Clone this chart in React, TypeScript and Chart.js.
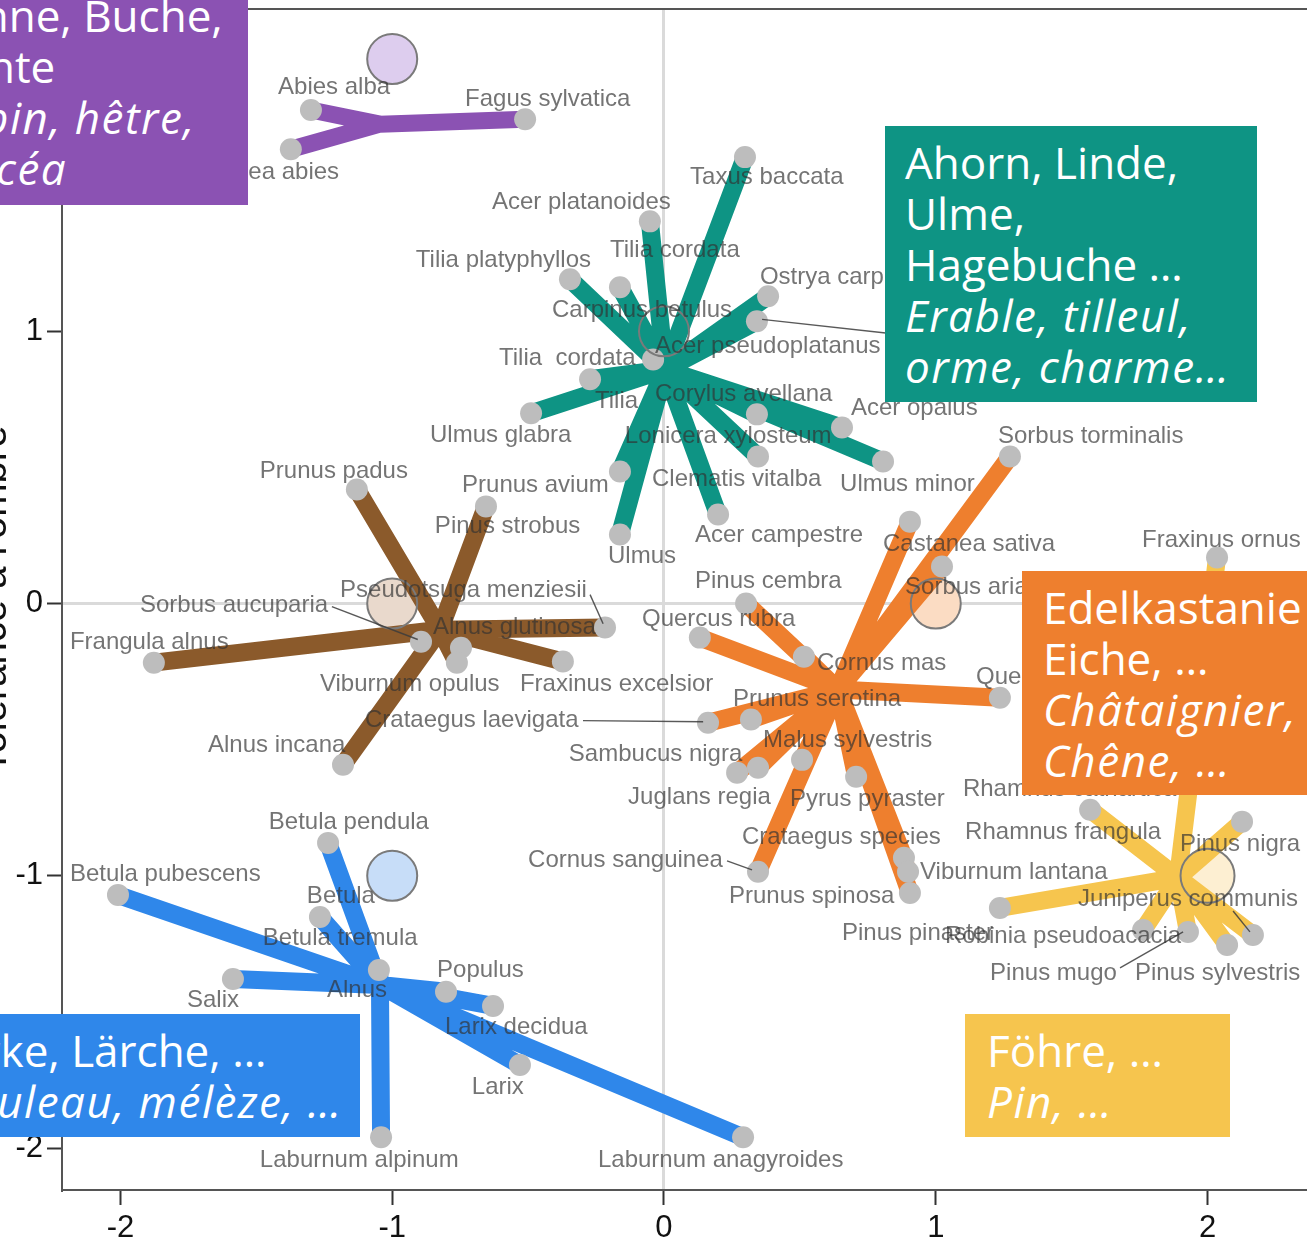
import React, { useEffect, useRef } from 'react';
import { Chart, registerables } from 'chart.js';

Chart.register(...registerables);

// ---------- axes ----------
const xTicks = [-2, -1, 0, 1, 2];
const yTicks = [-2, -1, 0, 1, 2];
const xMin = -2.215;
const xMax = 2.366;
const yMin = -2.154;
const yMax = 2.184;
const yTitle = "Tolérance à l'ombre";

// ---------- group centres (circles) ----------
const centreX = [-1, 0, -1, 1, -1, 2];
const centreY = [2, 1, 0, 0, -1, -1];

// ---------- spokes: hub + species points ----------
const purpleHub = [-1.045, 1.761];
const purpleX = [-1.299, -1.373, -0.511];
const purpleY = [1.813, 1.669, 1.779];

const tealHub = [0.004, 0.86];
const tealX = [0.298, -0.052, -0.346, -0.162, 0.383, 0.342, -0.04, -0.272, -0.489, 0.342, 0.346, 0.655, 0.806, 0.199, -0.162, -0.162];
const tealY = [1.64, 1.404, 1.191, 1.162, 1.129, 1.037, 0.897, 0.824, 0.699, 0.695, 0.54, 0.647, 0.522, 0.327, 0.254, 0.485];

const brownHub = [-0.824, -0.096];
const brownX = [-1.13, -0.655, -1.877, -0.217, -0.372, -0.747, -0.762, -0.894, -1.181];
const brownY = [0.419, 0.357, -0.217, -0.088, -0.213, -0.162, -0.217, -0.14, -0.592];

const orangeHub = [0.64, -0.316];
const orangeX = [1.273, 0.905, 1.023, 0.302, 0.132, 0.515, 1.236, 0.162, 0.32, 0.508, 0.269, 0.346, 0.707, 0.346, 0.883, 0.898, 0.905];
const orangeY = [0.54, 0.301, 0.136, 0.0, -0.125, -0.195, -0.346, -0.438, -0.426, -0.574, -0.621, -0.603, -0.636, -0.985, -0.934, -0.985, -1.063];

const yellowHub = [1.891, -1.007];
const yellowX = [2.035, 1.568, 2.127, 1.236, 1.763, 1.928, 2.072, 2.167];
const yellowY = [0.169, -0.757, -0.801, -1.118, -1.199, -1.206, -1.254, -1.217];

const blueHub = [-1.045, -1.401];
const blueX = [-1.236, -2.009, -1.266, -1.049, -1.586, -0.802, -0.629, -0.53, -1.041, 0.291];
const blueY = [-0.879, -1.07, -1.151, -1.346, -1.379, -1.426, -1.478, -1.695, -1.96, -1.96];

// ---------- species labels ----------
const labelText = [
  'Abies alba', 'Picea abies', 'Fagus sylvatica',
  'Taxus baccata', 'Acer platanoides', 'Tilia platyphyllos', 'Tilia cordata', 'Ostrya carpinifolia', 'Carpinus betulus', 'Acer pseudoplatanus', 'Tilia  cordata', 'Tilia', 'Corylus avellana', 'Acer opalus', 'Ulmus glabra', 'Lonicera xylosteum', 'Clematis vitalba', 'Ulmus minor', 'Acer campestre', 'Ulmus', 'Prunus avium',
  'Prunus padus', 'Pinus strobus', 'Pseudotsuga menziesii', 'Sorbus aucuparia', 'Frangula alnus', 'Alnus glutinosa', 'Viburnum opulus', 'Fraxinus excelsior', 'Crataegus laevigata', 'Alnus incana',
  'Sorbus torminalis', 'Castanea sativa', 'Pinus cembra', 'Sorbus aria', 'Quercus rubra', 'Cornus mas', 'Quercus petraea', 'Prunus serotina', 'Malus sylvestris', 'Sambucus nigra', 'Juglans regia', 'Pyrus pyraster', 'Crataegus species', 'Cornus sanguinea', 'Viburnum lantana', 'Prunus spinosa', 'Pinus pinaster',
  'Fraxinus ornus', 'Rhamnus cathartica', 'Rhamnus frangula', 'Pinus nigra', 'Juniperus communis', 'Robinia pseudoacacia', 'Pinus mugo', 'Pinus sylvestris',
  'Betula pendula', 'Betula pubescens', 'Betula', 'Betula tremula', 'Populus', 'Alnus', 'Salix', 'Larix decidua', 'Larix', 'Laburnum alpinum', 'Laburnum anagyroides',
];
const labelX = [
  -1.42, -1.652, -0.732,
  0.096, -0.633, -0.913, -0.199, 0.353, -0.412, -0.033, -0.607, -0.254, -0.033, 0.688, -0.861, -0.144, -0.044, 0.648, 0.114, -0.206, -0.743,
  -1.487, -0.843, -1.192, -1.928, -2.186, -0.85, -1.266, -0.53, -1.1, -1.678,
  1.229, 0.806, 0.114, 0.887, -0.081, 0.563, 1.148, 0.254, 0.364, -0.35, -0.132, 0.464, 0.287, -0.5, 0.942, 0.239, 0.655,
  1.759, 1.1, 1.108, 1.899, 1.523, 1.034, 1.2, 1.733,
  -1.454, -2.186, -1.314, -1.476, -0.835, -1.24, -1.755, -0.806, -0.707, -1.487, -0.243,
];
const labelY = [
  1.897, 1.585, 1.853,
  1.566, 1.474, 1.261, 1.298, 1.199, 1.077, 0.945, 0.901, 0.743, 0.768, 0.717, 0.618, 0.614, 0.456, 0.438, 0.25, 0.173, 0.434,
  0.485, 0.283, 0.048, -0.007, -0.143, -0.088, -0.298, -0.298, -0.43, -0.522,
  0.614, 0.217, 0.081, 0.059, -0.059, -0.221, -0.272, -0.353, -0.504, -0.555, -0.71, -0.721, -0.857, -0.945, -0.989, -1.077, -1.213,
  0.232, -0.684, -0.842, -0.886, -1.088, -1.224, -1.357, -1.357,
  -0.805, -0.996, -1.077, -1.228, -1.349, -1.419, -1.456, -1.555, -1.776, -2.044, -2.044,
];

// ---------- leader lines ----------
const leaderX1 = [-1.222, -0.272, -0.298, 0.361, 0.232, 1.678, 2.094];
const leaderY1 = [-0.011, 0.033, -0.43, 1.044, -0.945, -1.338, -1.129];
const leaderX2 = [-0.906, -0.224, 0.144, 0.824, 0.324, 1.91, 2.156];
const leaderY2 = [-0.132, -0.074, -0.434, 0.993, -0.978, -1.206, -1.206];

// ---------- styles ----------
const COLORS = {
  purple: '#8b52b3',
  teal: '#0e9484',
  brown: '#8b5a2b',
  orange: '#ee7f2e',
  blue: '#2f87ea',
  yellow: '#f6c54e',
};
const centreFill = ['#ddcdee', 'rgba(0,0,0,0)', '#e9d9cc', '#fbdcc3', '#c7ddf8', '#fdefd2'];
const DOT = '#bdbdbd';

function spokes(hub: number[], xs: number[], ys: number[]) {
  const out: { x: number; y: number }[] = [];
  xs.forEach((x, i) => {
    out.push({ x: hub[0], y: hub[1] });
    out.push({ x, y: ys[i] });
  });
  return out;
}

function spokeDataset(data: { x: number; y: number }[], color: string, width: number) {
  return {
    type: 'scatter' as const,
    data,
    showLine: true,
    borderColor: color,
    backgroundColor: color,
    borderWidth: width,
    borderCapStyle: 'round' as const,
    borderJoinStyle: 'round' as const,
    tension: 0,
    fill: false,
    pointRadius: (c: any) => (c.dataIndex % 2 === 1 ? 11 : 0),
    pointBackgroundColor: DOT,
    pointBorderWidth: 0,
    pointHoverRadius: 0,
    order: 5,
  };
}

const overlayPlugin = {
  id: 'overlay',
  afterDatasetsDraw(chart: any) {
    const { ctx, scales } = chart;
    const xs = scales.x;
    const ys = scales.y;
    ctx.save();
    ctx.strokeStyle = 'rgba(60,60,60,0.85)';
    ctx.lineWidth = 1.4;
    leaderX1.forEach((x1, i) => {
      ctx.beginPath();
      ctx.moveTo(xs.getPixelForValue(x1), ys.getPixelForValue(leaderY1[i]));
      ctx.lineTo(xs.getPixelForValue(leaderX2[i]), ys.getPixelForValue(leaderY2[i]));
      ctx.stroke();
    });
    ctx.font = '24px "Liberation Sans", Arial, sans-serif';
    ctx.fillStyle = 'rgba(50,50,50,0.68)';
    ctx.textAlign = 'left';
    ctx.textBaseline = 'middle';
    labelText.forEach((t, i) => {
      ctx.fillText(t, xs.getPixelForValue(labelX[i]), ys.getPixelForValue(labelY[i]));
    });
    ctx.restore();
  },
  afterDraw(chart: any) {
    const { ctx, chartArea } = chart;
    ctx.save();
    ctx.strokeStyle = '#555';
    ctx.lineWidth = 2;
    ctx.beginPath();
    ctx.moveTo(chartArea.left, chartArea.top);
    ctx.lineTo(chartArea.right, chartArea.top);
    ctx.stroke();
    ctx.translate(6, (chartArea.top + chartArea.bottom) / 2);
    ctx.rotate(-Math.PI / 2);
    ctx.font = '40px "Liberation Sans", Arial, sans-serif';
    ctx.fillStyle = '#111';
    ctx.textAlign = 'center';
    ctx.textBaseline = 'alphabetic';
    ctx.fillText(yTitle, 0, 0);
    ctx.restore();
  },
};

const axisCommon = {
  type: 'linear' as const,
  grid: {
    color: (c: any) => (c.tick && c.tick.value === 0 ? '#dadada' : 'rgba(0,0,0,0)'),
    lineWidth: 3,
    tickColor: '#333',
    tickWidth: 2,
    tickLength: 15,
    drawTicks: true,
  },
  border: { display: true, color: '#555', width: 2 },
};

function zeroPadding(s: any) {
  s.paddingTop = 0;
  s.paddingBottom = 0;
  s.paddingLeft = 0;
  s.paddingRight = 0;
}

const boxFont = '"Open Sans", "Noto Sans", sans-serif';

function Box(props: { left: number; top: number; width: number; height: number; color: string; lines: [string, boolean][]; textLeft: number }) {
  const { left, top, width, height, color, lines, textLeft } = props;
  return (
    <div
      style={{
        position: 'absolute',
        left,
        top,
        width,
        height,
        background: color,
        color: '#fff',
        fontFamily: boxFont,
        fontSize: 44,
        lineHeight: '51px',
        boxSizing: 'border-box',
        paddingTop: 11,
        paddingLeft: textLeft,
        whiteSpace: 'nowrap',
        overflow: 'hidden',
      }}
    >
      {lines.map(([t, it], i) => (
        <div key={i} style={{ fontStyle: it ? 'italic' : 'normal', letterSpacing: it ? '1.5px' : 'normal' }}>
          {t}
        </div>
      ))}
    </div>
  );
}

export default function App() {
  const ref = useRef<HTMLCanvasElement | null>(null);

  useEffect(() => {
    if (!ref.current) return;
    const chart = new Chart(ref.current, {
      type: 'scatter',
      data: {
        datasets: [
          {
            type: 'scatter',
            data: centreX.map((x, i) => ({ x, y: centreY[i] })),
            pointRadius: (c: any) => (c.dataIndex === 5 ? 27 : 25),
            pointBackgroundColor: 'rgba(0,0,0,0)',
            pointBorderColor: '#7a7a7a',
            pointBorderWidth: 2,
            pointHoverRadius: 0,
            showLine: false,
            order: 1,
          } as any,
          spokeDataset(spokes(yellowHub, yellowX, yellowY), COLORS.yellow, 18) as any,
          spokeDataset(spokes(blueHub, blueX, blueY), COLORS.blue, 18) as any,
          spokeDataset(spokes(orangeHub, orangeX, orangeY), COLORS.orange, 18) as any,
          spokeDataset(spokes(brownHub, brownX, brownY), COLORS.brown, 18) as any,
          spokeDataset(spokes(tealHub, tealX, tealY), COLORS.teal, 18) as any,
          spokeDataset(spokes(purpleHub, purpleX, purpleY), COLORS.purple, 17) as any,
          {
            type: 'scatter',
            data: centreX.map((x, i) => ({ x, y: centreY[i] })),
            pointRadius: (c: any) => (c.dataIndex === 5 ? 27 : 25),
            pointBackgroundColor: centreFill,
            pointBorderWidth: 0,
            pointHoverRadius: 0,
            showLine: false,
            order: 10,
          } as any,
        ],
      },
      options: {
        animation: false,
        responsive: false,
        devicePixelRatio: 1,
        events: [],
        layout: { autoPadding: false, padding: { top: 9, left: 0, right: 0, bottom: 0 } },
        plugins: { legend: { display: false }, tooltip: { enabled: false } },
        scales: {
          x: {
            ...axisCommon,
            min: xMin,
            max: xMax,
            afterFit: (s: any) => {
              s.height = 57;
              zeroPadding(s);
            },
            afterBuildTicks: (s: any) => {
              s.ticks = xTicks.map((v) => ({ value: v }));
            },
            ticks: {
              autoSkip: false,
              maxRotation: 0,
              padding: 5,
              color: '#111',
              font: { family: '"Liberation Sans", Arial, sans-serif', size: 31 },
              callback: (v: any) => String(v),
            },
          },
          y: {
            ...axisCommon,
            min: yMin,
            max: yMax,
            afterFit: (s: any) => {
              s.width = 62;
              zeroPadding(s);
            },
            afterBuildTicks: (s: any) => {
              s.ticks = yTicks.map((v) => ({ value: v }));
            },
            ticks: {
              autoSkip: false,
              padding: 4,
              color: '#111',
              font: { family: '"Liberation Sans", Arial, sans-serif', size: 31 },
              callback: (v: any) => String(v),
            },
          },
        },
      } as any,
      plugins: [overlayPlugin],
    });
    return () => chart.destroy();
  }, []);

  return (
    <div style={{ position: 'absolute', left: 0, top: 0, width: 1307, height: 1247, overflow: 'hidden', background: '#fff' }}>
      <canvas ref={ref} width={1307} height={1247} style={{ display: 'block', width: 1307, height: 1247 }} />
      <Box left={-87} top={-21} width={335} height={226} color={COLORS.purple} textLeft={20}
        lines={[['Tanne, Buche,', false], ['Fichte', false], ['Sapin, hêtre,', true], ['épicéa', true]]} />
      <Box left={885} top={126} width={372} height={276} color={COLORS.teal} textLeft={20}
        lines={[['Ahorn, Linde,', false], ['Ulme,', false], ['Hagebuche …', false], ['Erable, tilleul,', true], ['orme, charme…', true]]} />
      <Box left={1022} top={571} width={320} height={224} color={COLORS.orange} textLeft={21}
        lines={[['Edelkastanie', false], ['Eiche, …', false], ['Châtaignier,', true], ['Chêne, …', true]]} />
      <Box left={-77} top={1014} width={437} height={123} color={COLORS.blue} textLeft={20}
        lines={[['Birke, Lärche, …', false], ['Bouleau, mélèze, …', true]]} />
      <Box left={965} top={1014} width={265} height={123} color={COLORS.yellow} textLeft={22}
        lines={[['Föhre, …', false], ['Pin, …', true]]} />
    </div>
  );
}
